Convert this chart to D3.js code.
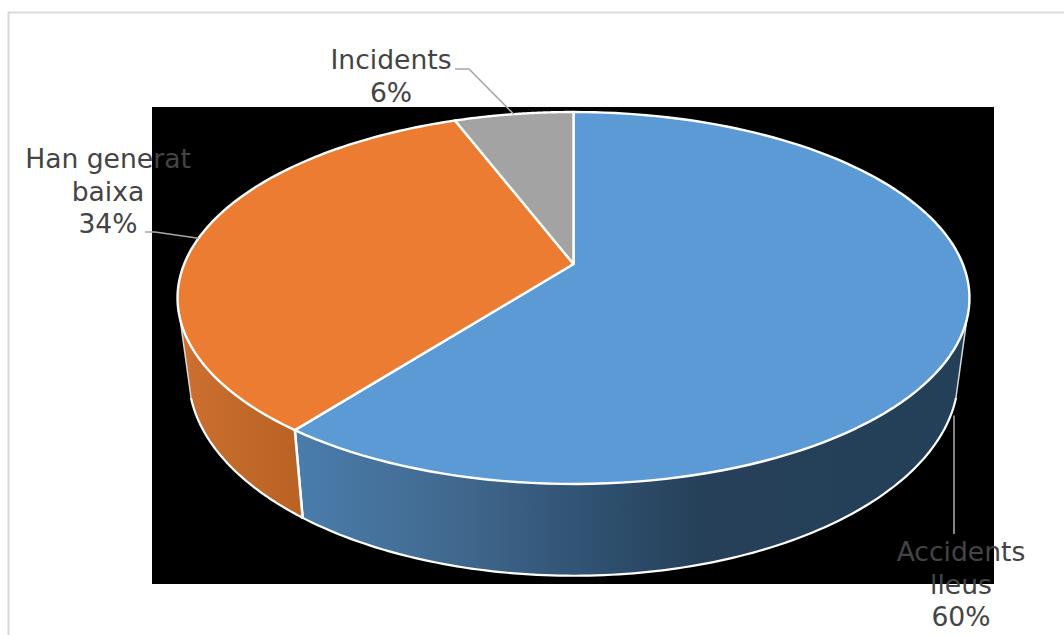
<!DOCTYPE html>
<html><head><meta charset="utf-8">
<script src="https://d3js.org/d3.v7.min.js"></script>
<style>html,body{margin:0;padding:0;background:#fff;overflow:hidden}svg{display:block}</style>
</head><body><div id="c"></div>
<script>
const categories = ["Accidents lleus", "Han generat baixa", "Incidents"];
const labelLines = [["Accidents", "lleus"], ["Han generat", "baixa"], ["Incidents"]];
const values = [60.49, 33.71, 5.8];
const topColors = ["#5b9ad5", "#eb7c31", "#a3a3a3"];
const sideStops = [
  [[295, "#4a7dac"], [450, "#41698f"], [600, "#2f5070"], [700, "#264059"], [960, "#243f58"]],
  [[180, "#cc7030"], [300, "#b86224"]],
  [[0, "#a5a5a5"], [1, "#a5a5a5"]]
];
const W = 1064, H = 635;
const svg = d3.select("#c").append("svg").attr("width", W).attr("height", H);
svg.append("rect").attr("x", 8.5).attr("y", 12.5).attr("width", W + 20).attr("height", H + 20)
  .attr("fill", "#fff").attr("stroke", "#d9d9d9").attr("stroke-width", 2);
svg.append("rect").attr("x", 152).attr("y", 107).attr("width", 842).attr("height", 477).attr("fill", "#000");

// perspective disc
const cx = 573.5, apexY = 264, persp = -0.1828, ay = 131.5, dx = 389.3;
const depth = 75, taper = 0.972;
function rim(t) {
  const u = Math.sin(t), v = -Math.cos(t), w = 1 + persp * v;
  return [cx + dx * u / w, (ay * v + apexY) / w];
}
function lower(t) {
  const v = -Math.cos(t), w = 1 + persp * v, p = rim(t);
  return [cx + taper * (p[0] - cx), p[1] + depth / w];
}
const pie = d3.pie().sort(null).value(d => d);
const arcs = pie(values);
const line = d3.line();
const samples = (a, b) => d3.range(0, 121).map(i => a + (b - a) * i / 120);
const deg = Math.PI / 180;
const visA = 107 * deg, visB = 253 * deg;

const defs = svg.append("defs");
sideStops.forEach((st, i) => {
  const g = defs.append("linearGradient").attr("id", "side" + i)
    .attr("gradientUnits", "userSpaceOnUse")
    .attr("x1", st[0][0]).attr("x2", st[st.length - 1][0]).attr("y1", 0).attr("y2", 0);
  const span = st[st.length - 1][0] - st[0][0];
  st.forEach(s => g.append("stop").attr("offset", (s[0] - st[0][0]) / span).attr("stop-color", s[1]));
});

// sides
arcs.forEach((a, i) => {
  const s = Math.max(a.startAngle, visA), e = Math.min(a.endAngle, visB);
  if (e <= s) return;
  const ts = samples(s, e);
  const up = ts.map(rim), lo = ts.map(lower).reverse();
  svg.append("path").attr("d", line(up.concat(lo)) + "Z")
    .attr("fill", `url(#side${i})`).attr("stroke", "none");
  [[s, a.startAngle <= visA], [e, a.endAngle >= visB]].forEach(([t, sil]) => {
    svg.append("path").attr("d", line([rim(t), lower(t)])).attr("fill", "none")
      .attr("stroke", sil ? "#d8d8d8" : "#fff").attr("stroke-width", sil ? 1.5 : 2.5)
      .attr("stroke-linecap", "round");
  });
  svg.append("path").attr("d", line(ts.map(lower))).attr("fill", "none")
    .attr("stroke", "#fff").attr("stroke-width", 2.2).attr("stroke-linecap", "round");
});

// top faces
arcs.forEach((a, i) => {
  const ts = samples(a.startAngle, a.endAngle);
  const p = [[cx, apexY]].concat(ts.map(rim));
  svg.append("path").attr("d", line(p) + "Z").attr("fill", topColors[i])
    .attr("stroke", "#fff").attr("stroke-width", 2.4).attr("stroke-linejoin", "round");
});

// leaders
const mid = arcs.map(a => (a.startAngle + a.endAngle) / 2);
const leaderPts = [
  [[954, 534], [954, lower(mid[0])[1] + 10]],
  [[145, 232], [155, 232], rim(mid[1])],
  [[455, 69], [469, 69], rim(mid[2])]
];
leaderPts.forEach(pts => svg.append("path").attr("d", line(pts)).attr("fill", "none")
  .attr("stroke", "#a6a6a6").attr("stroke-width", 1.6));

// labels
const fmt = d3.format(".0%");
const total = d3.sum(values);
const labelPos = [[961, 561], [108, 168], [391, 69]];
categories.forEach((c, i) => {
  const lines = labelLines[i].concat(fmt(values[i] / total));
  const t = svg.append("text").attr("text-anchor", "middle")
    .attr("font-family", "'DejaVu Sans', sans-serif").attr("font-size", 26.6).attr("fill", "#444444");
  lines.forEach((l, j) => t.append("tspan").attr("x", labelPos[i][0]).attr("y", labelPos[i][1] + j * 32.7).text(l));
});
</script></body></html>
